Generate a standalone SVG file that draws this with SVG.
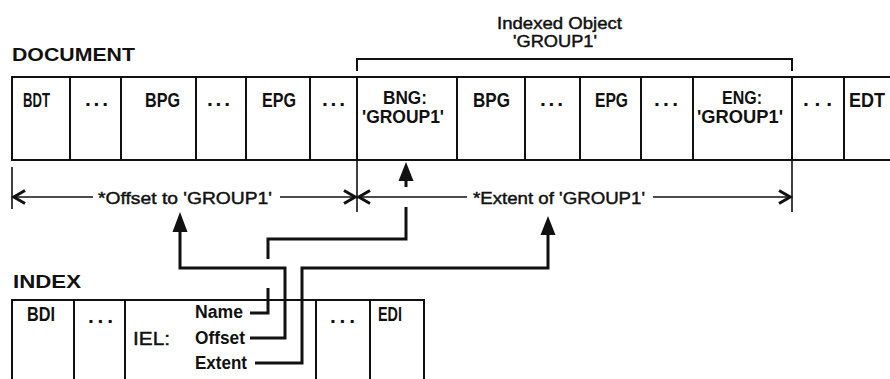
<svg xmlns="http://www.w3.org/2000/svg" width="890" height="379" viewBox="0 0 890 379">
<style>
text{font-family:"Liberation Sans Narrow","Liberation Sans",Arial,sans-serif;fill:#111}
.c{font-size:21px;font-weight:bold}
.c2{font-size:18px;font-weight:bold}
.l{font-size:18px;font-weight:bold}
.m{font-size:17px;font-weight:normal;stroke:#111;stroke-width:0.45}
.t{font-size:19px;font-weight:bold}
.box{fill:none;stroke:#111;stroke-width:2}
.dim{fill:none;stroke:#111;stroke-width:1.6}
.con{fill:none;stroke:#111;stroke-width:3}
.ah{fill:#111}
</style>
<defs>
<marker id="chev" markerUnits="userSpaceOnUse" markerWidth="18" markerHeight="18" viewBox="-15 -9 18 18" refX="0" refY="0" orient="auto-start-reverse">
<path d="M-12,-6.5 L-0.8,0 L-12,6.5" fill="none" stroke="#111" stroke-width="3"/>
</marker>
</defs>
<g id="title-document"><text class="t" x="12" y="61" textLength="123" lengthAdjust="spacingAndGlyphs">DOCUMENT</text></g>
<g id="title-indexed"><text class="m" x="497" y="29" textLength="125" lengthAdjust="spacingAndGlyphs">Indexed Object</text><text class="m" x="513" y="47" textLength="84" lengthAdjust="spacingAndGlyphs">'GROUP1'</text></g>
<g id="bracket"><path class="box" d="M357,71 V59 H792 V71"/></g>
<g id="document-row">
<path class="box" d="M890,77 H12 V160 H890 M70,77 V160 M121,77 V160 M196,77 V160 M246,77 V160 M310,77 V160 M357,77 V160 M457,77 V160 M525,77 V160 M580,77 V160 M641,77 V160 M693,77 V160 M792,77 V160 M844,77 V160"/>
</g>
<g id="cell-bdt"><text class="c" x="23" y="107" textLength="27" lengthAdjust="spacingAndGlyphs">BDT</text></g>
<g id="cell-dots1"><text class="c" x="85" y="106" textLength="23" lengthAdjust="spacing">...</text></g>
<g id="cell-bpg1"><text class="c" x="145" y="107" textLength="35" lengthAdjust="spacingAndGlyphs">BPG</text></g>
<g id="cell-dots2"><text class="c" x="207" y="106" textLength="23" lengthAdjust="spacing">...</text></g>
<g id="cell-epg1"><text class="c" x="262" y="107" textLength="34" lengthAdjust="spacingAndGlyphs">EPG</text></g>
<g id="cell-dots3"><text class="c" x="322" y="106" textLength="23" lengthAdjust="spacing">...</text></g>
<g id="cell-bng"><text class="c2" x="383" y="104" textLength="44" lengthAdjust="spacingAndGlyphs">BNG:</text><text class="c2" x="362" y="123" textLength="82" lengthAdjust="spacingAndGlyphs">'GROUP1'</text></g>
<g id="cell-bpg2"><text class="c" x="473" y="107" textLength="37" lengthAdjust="spacingAndGlyphs">BPG</text></g>
<g id="cell-dots4"><text class="c" x="540" y="106" textLength="23" lengthAdjust="spacing">...</text></g>
<g id="cell-epg2"><text class="c" x="595" y="107" textLength="33" lengthAdjust="spacingAndGlyphs">EPG</text></g>
<g id="cell-dots5"><text class="c" x="654" y="106" textLength="24" lengthAdjust="spacing">...</text></g>
<g id="cell-eng"><text class="c2" x="722" y="104" textLength="40" lengthAdjust="spacingAndGlyphs">ENG:</text><text class="c2" x="697" y="123" textLength="86" lengthAdjust="spacingAndGlyphs">'GROUP1'</text></g>
<g id="cell-dots6"><text class="c" x="803" y="106" textLength="29" lengthAdjust="spacing">...</text></g>
<g id="cell-edt"><text class="c" x="849" y="107" textLength="36" lengthAdjust="spacingAndGlyphs">EDT</text></g>

<g id="dimension-offset">
<path class="dim" d="M12,167 V209 M357,160 V212 M792,160 V212"/>
<path class="dim" d="M13,197 H93" marker-start="url(#chev)"/>
<path class="dim" d="M280,197 H356" marker-end="url(#chev)"/>
<text class="m" x="98" y="204" textLength="174" lengthAdjust="spacingAndGlyphs">*Offset to 'GROUP1'</text>
</g>
<g id="dimension-extent">
<path class="dim" d="M358,197 H467" marker-start="url(#chev)"/>
<path class="dim" d="M653,197 H791" marker-end="url(#chev)"/>
<text class="m" x="473" y="204" textLength="172" lengthAdjust="spacingAndGlyphs">*Extent of 'GROUP1'</text>
</g>

<g id="title-index"><text class="t" x="13" y="288" textLength="68" lengthAdjust="spacingAndGlyphs">INDEX</text></g>
<g id="index-row">
<path class="box" d="M12,379 V300 H424 V379 M74,300 V379 M125,300 V379 M316,300 V379 M370,300 V379"/>
</g>
<g id="cell-bdi"><text class="c" x="27" y="321" textLength="28" lengthAdjust="spacingAndGlyphs">BDI</text></g>
<g id="cell-idots1"><text class="c" x="88" y="323" textLength="25" lengthAdjust="spacing">...</text></g>
<g id="cell-iel">
<text class="m" x="133" y="345" textLength="37" lengthAdjust="spacingAndGlyphs" style="font-size:19px">IEL:</text>
<text class="l" x="195" y="318" textLength="48" lengthAdjust="spacingAndGlyphs">Name</text>
<text class="l" x="195" y="344" textLength="50" lengthAdjust="spacingAndGlyphs">Offset</text>
<text class="l" x="195" y="369" textLength="52" lengthAdjust="spacingAndGlyphs">Extent</text>
</g>
<g id="cell-idots2"><text class="c" x="330" y="323" textLength="25" lengthAdjust="spacing">...</text></g>
<g id="cell-edi"><text class="c" x="378" y="321" textLength="24" lengthAdjust="spacingAndGlyphs">EDI</text></g>

<g id="connectors">
<path class="con" d="M250,313 H268 V288 M268,259 V239 H406 V207 M406,187 V178"/>
<polygon class="ah" points="406,162 398.5,181 413.5,181"/>
<path class="con" d="M250,338 H285 V268 H180 V228"/>
<polygon class="ah" points="180,212 172.5,232 187.5,232"/>
<path class="con" d="M255,363 H302 V268 H548 V230"/>
<polygon class="ah" points="548,216 540.5,235 555.5,235"/>
</g>
</svg>
